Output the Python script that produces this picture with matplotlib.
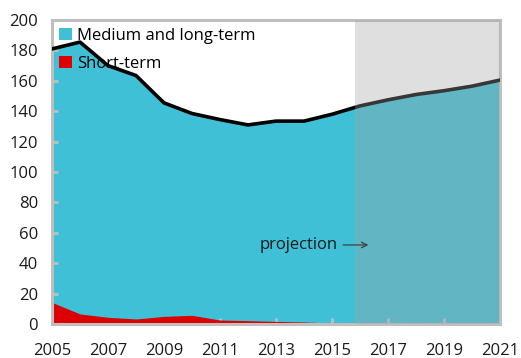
import numpy as np
import matplotlib
matplotlib.use('Agg')
import matplotlib.pyplot as plt

plt.rcParams['font.family'] = ['Open Sans', 'DejaVu Sans']

years = list(range(2005, 2022))
# total external debt (black line), projection from 2016
total = [181, 185.5, 170, 163.5, 145.5, 138.5, 134.5, 131, 133.5, 133.5, 138, 143.5,
         147.5, 151, 153.5, 156.5, 160.5]
# short-term part (red), ends in 2016
short_years = list(range(2005, 2017))
short = [14.2, 6.6, 4.4, 3.3, 5.0, 5.7, 2.6, 2.2, 1.7, 1.3, 0.7, 0.0]
proj_start = 2015.83

teal = '#40C0D6'
red = '#DD0000'
spine_gray = '#BFBFBF'

fig = plt.figure(figsize=(5.21, 3.58), dpi=100)
ax = fig.add_axes([0.0998, 0.095, 0.8599, 0.849])

ax.fill_between(years, 0, total, color=teal, lw=0, label='Medium and long-term', zorder=1)
ax.fill_between(short_years, 0, short, color=red, lw=0, label='Short-term', zorder=2)
ax.plot(years, total, color='black', lw=2.6, zorder=3)

# shaded projection period
ax.axvspan(proj_start, 2021, color='#A4A4A4', alpha=0.34, lw=0, zorder=4)

ax.annotate('', xy=(2016.4, 52), xytext=(2015.3, 52),
            arrowprops=dict(arrowstyle='->', color='#404040', lw=0.9), zorder=5)
ax.text(2015.2, 52, 'projection', ha='right', va='center', fontsize=12,
        color='#1a1a1a', zorder=5)

ax.set_xlim(2005, 2021)
ax.set_ylim(0, 200)
ax.set_xticks(range(2005, 2022, 2))
ax.set_yticks(range(0, 201, 20))
ax.tick_params(axis='both', direction='in', length=4, width=2, color=spine_gray,
               labelsize=12, labelcolor='#1a1a1a')
ax.tick_params(axis='x', pad=14)
ax.tick_params(axis='y', pad=10)
for s in ax.spines.values():
    s.set_color(spine_gray)
    s.set_linewidth(2.2)

leg = ax.legend(loc='upper left', frameon=False, fontsize=12, handlelength=0.75,
                handleheight=0.75, handletextpad=0.3, labelspacing=0.72,
                borderaxespad=0.1, borderpad=0.35)
leg.set_zorder(6)

fig.savefig('out.png', dpi=100)
